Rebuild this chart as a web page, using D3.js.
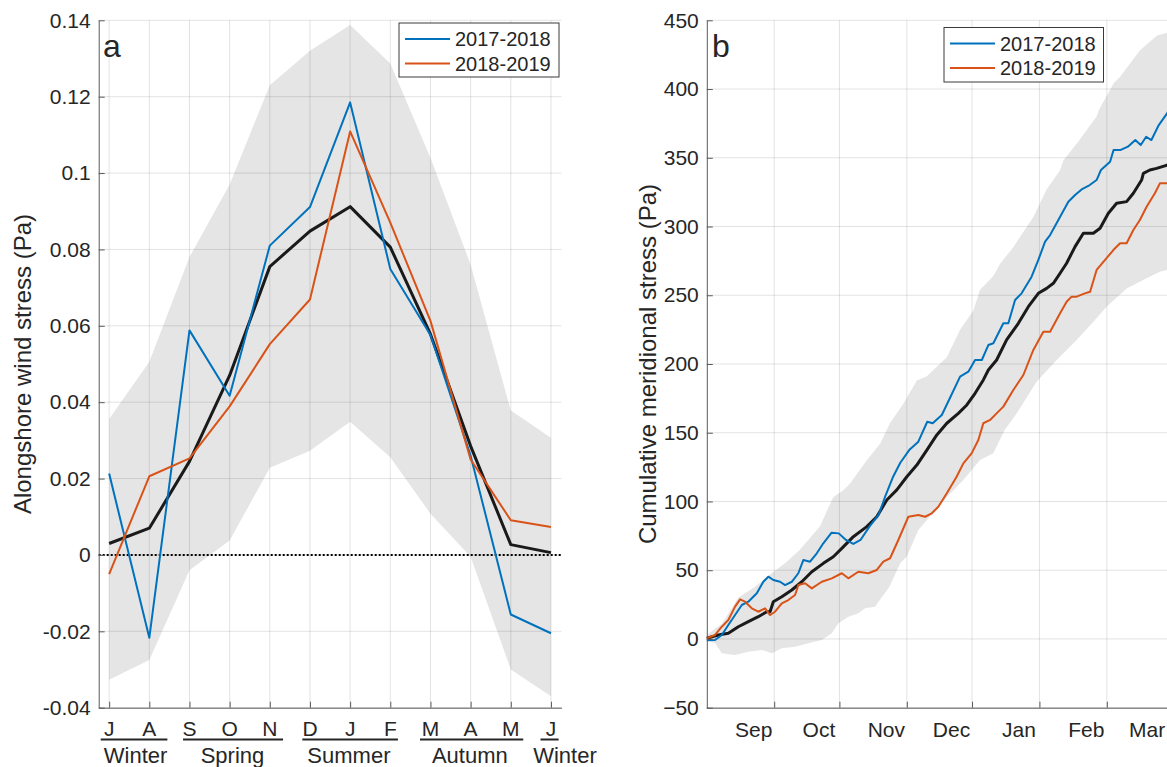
<!DOCTYPE html>
<html>
<head>
<meta charset="utf-8">
<script src="https://cdn.jsdelivr.net/npm/d3@7"></script>
<style>
  body { margin: 0; background: #fff; }
  svg { display: block; }
  text { font-family: "Liberation Sans", Arial, sans-serif; fill: #262626; }
</style>
</head>
<body>
<div id="chart"></div>
<script>
"use strict";

// ---- panel a : monthly alongshore wind stress (Pa), Jul..Jun
var monthLetters = ["J", "A", "S", "O", "N", "D", "J", "F", "M", "A", "M", "J"];
var a2017 = [0.0213, -0.0217, 0.0588, 0.0417, 0.081, 0.0911, 0.1185, 0.0749, 0.0576, 0.026, -0.0156, -0.0205];
var a2018 = [-0.005, 0.0206, 0.0253, 0.0389, 0.0552, 0.0669, 0.1109, 0.087, 0.0613, 0.025, 0.0091, 0.0073];
var aMean = [0.003, 0.007, 0.0245, 0.047, 0.0755, 0.0848, 0.0912, 0.0806, 0.0578, 0.0285, 0.0027, 0.0006];
var aUpper = [0.0356, 0.0506, 0.078, 0.097, 0.123, 0.132, 0.1388, 0.1287, 0.104, 0.076, 0.0378, 0.0307];
var aLower = [-0.0327, -0.0275, -0.004, 0.0038, 0.0228, 0.0273, 0.0349, 0.0256, 0.0108, -0.0005, -0.030, -0.037];
var aYTicks = [-0.04, -0.02, 0, 0.02, 0.04, 0.06, 0.08, 0.1, 0.12, 0.14];

var seasonNames = ["Winter", "Spring", "Summer", "Autumn", "Winter"];
var seasonFrom = [-0.21, 1.84, 4.81, 7.74, 10.74];
var seasonTo = [1.45, 4.33, 7.19, 10.31, 11.19];
var seasonAt = [0.66, 3.07, 5.97, 8.98, 11.35];

var legendNames = ["2017-2018", "2018-2019"];

// ---- panel b : cumulative meridional stress (Pa), [day since 1 Aug, value]
var bBlue = [[0,-1],[3.8,-0.8],[6.9,2.9],[9.9,10.2],[13,17.4],[16.1,24.7],[19.1,27.1],[23,33.2],[26,41.6],[28.3,45.3],[30.6,42.9],[33.7,41.6],[36,39.2],[39.1,41.6],[42.1,47.8],[44.4,57.4],[47.5,56.2],[50.6,62.3],[53.6,69.6],[57.4,77.3],[60.7,76.8],[64,72],[67.4,69.1],[70.7,72],[74.8,81.7],[79,90.2],[82.3,104.7],[85.7,118],[89,128.2],[93.1,137.4],[97.3,143.5],[101.4,158],[103.9,156.9],[108.1,162.9],[111.4,173.8],[116.5,190.8],[120.3,194.4],[123.4,202.9],[126.5,202.9],[129.5,213.8],[131.8,215.1],[136.4,229.6],[138.7,229.6],[141.8,246.6],[144.8,251.4],[149.4,263.5],[152.5,275.7],[155.6,289],[157.9,293.8],[161.7,304.7],[166.3,318],[169.4,322.9],[172.4,327],[175.5,329.5],[179.3,333.8],[181.3,341.1],[185.5,347.1],[187.1,355.7],[190.4,355.7],[193.7,358.1],[197.1,362.9],[199.6,359.3],[202.1,365.3],[204.5,362.9],[207.9,373.8],[211.7,382.3],[213,386]];
var bOrange = [[0,0.5],[3.8,2.9],[6.9,8.9],[9.9,13.8],[13,23.5],[15.3,28.8],[17.6,27.1],[20.7,22.3],[23.7,19.8],[26.8,22.3],[29.1,17.4],[31.4,19.8],[34.5,25.9],[37.5,28.3],[40.6,32],[42.1,39.2],[45.2,40.5],[48.3,36.8],[52.9,41.6],[57.5,44.1],[62.1,47.8],[65.1,44.1],[69.7,48.9],[74.3,47.8],[78.2,50.2],[81.2,56.2],[84.3,58.7],[88.1,72],[92.7,88.9],[97.3,90.2],[100.4,88.9],[103.5,91.4],[106.5,96.2],[110.4,106],[114.9,118],[118,127.7],[121.8,135],[124.9,144.7],[127.2,156.9],[130.3,159.3],[133.3,164.1],[136.4,169],[141,181.1],[145.6,192],[150.2,210.2],[154.8,223.5],[157.9,223.5],[162.5,236.9],[165.5,245.3],[167.8,249],[170.1,249],[173.9,251.4],[176.3,252.6],[179.3,268.4],[183.2,275.7],[187,282.9],[190.1,287.8],[193.1,287.8],[196.2,297.5],[199.2,304.7],[202.3,314.4],[206.1,324.2],[208.4,331.4],[211.7,331.4],[213,332]];
var bMean = [[0,0.5],[5.3,2.9],[9.9,4.1],[14.5,8.9],[19.1,12.6],[23.7,16.2],[27.6,19.8],[29.1,19.8],[30.6,27.1],[34.5,30.7],[39.1,35.6],[43.7,41.6],[48.3,48.9],[53.6,55],[58.2,59.8],[62.1,65.9],[67.4,74.4],[73.6,81.7],[78.2,88.9],[82.8,101.1],[87.4,108.4],[92,118],[96.6,126.5],[101.2,137.4],[105.8,148.4],[110.4,156.9],[115.7,164.1],[119.6,170.2],[123.4,178.7],[127.2,188.4],[129.5,195.6],[133.3,202.9],[137.9,217.5],[143.3,229.6],[147.9,241.7],[152.5,251.4],[156.3,255],[159.4,258.7],[162.5,266],[165.5,273.3],[169.4,285.4],[173.2,295.1],[177.8,295.1],[180.9,298.7],[184.7,309.6],[188.5,316.9],[193.1,318.1],[196.2,324.2],[200,333.8],[200.8,338.7],[203.8,341.1],[206.9,342.3],[211.7,344.7],[213,345]];
var bUpper = [[0,3],[7,11],[14.4,30],[22.2,38],[30,48],[36,55],[42.9,65],[52.1,82],[58.1,103],[62.7,108],[65.9,113],[73.6,130],[79.7,142],[84.3,157],[90.4,171],[96.6,188],[101.2,191],[110.4,205],[116.5,225],[122.6,239],[125.7,254],[131.8,264],[134.9,273],[141,285],[150.2,307],[156.3,327],[162.5,341],[164,348],[171,362],[179.3,380],[180.4,385],[187.1,404],[190.1,409],[199.2,428],[207.1,439],[211.7,441],[213,442]];
var bLower = [[0,-1],[3.8,-3.2],[6.9,-10.4],[13,-11.7],[19.1,-9.3],[25.3,-8],[29.9,-10.4],[34.5,-6.8],[40.6,-5.6],[46.7,-3.2],[52.9,-0.8],[57.5,4.1],[60.5,11.4],[65.1,16.2],[69.7,18.7],[72.8,22.3],[77.3,23.5],[84,38],[89,55],[92,60],[97.3,79.3],[103.9,91.4],[110.6,103.5],[118,115.6],[125.7,130.2],[131.8,135],[137,152],[142.5,164],[151.7,187],[160.9,203],[170.1,217.5],[177.8,230.8],[183.9,241.7],[193.1,255],[202.3,262.3],[208.4,267.1],[211.7,268.4],[213,269]];
var bYTicks = [-50, 0, 50, 100, 150, 200, 250, 300, 350, 400, 450];
var bStart = new Date(2017, 7, 1);
var bMonthTicks = [new Date(2017, 8, 1), new Date(2017, 9, 1), new Date(2017, 10, 1), new Date(2017, 11, 1),
                   new Date(2018, 0, 1), new Date(2018, 1, 1), new Date(2018, 2, 1)];

var BLUE = "#0072BD", ORANGE = "#D95319", BLACK = "#1a1a1a", BAND = "#e5e5e5";
var AXIS = "#5a5a5a", GRID = "#262626";

var svg = d3.select("#chart").append("svg")
  .attr("width", 1167)
  .attr("height", 767)
  .attr("style", "background:#fff;");

function styleAxis(g){
  g.select(".domain").attr("stroke", AXIS);
  g.selectAll(".tick line").attr("stroke", AXIS);
  g.selectAll(".tick text").attr("fill", "#262626").attr("font-size", "21px")
    .attr("font-family", "Liberation Sans, Arial, sans-serif");
}

function drawLegend(x, y, w, h){
  var lg = svg.append("g").attr("transform", "translate(" + x + "," + y + ")");
  lg.append("rect").attr("width", w).attr("height", h)
    .attr("fill", "#fff").attr("stroke", "#3a3a3a").attr("stroke-width", 1);
  [BLUE, ORANGE].forEach(function(c, i){
    var ry = 16 + i * 24.5;
    lg.append("line").attr("x1", 6).attr("x2", 51).attr("y1", ry).attr("y2", ry)
      .attr("stroke", c).attr("stroke-width", 2);
    lg.append("text").attr("x", 56).attr("y", ry + 7).attr("font-size", "20px").text(legendNames[i]);
  });
}

// ================= panel a =================
var xa = d3.scaleLinear().domain([-0.26, 11.26]).range([98.7, 561.4]);
var ya = d3.scaleLinear().domain([-0.04, 0.14]).range([707.7, 20.3]);
var months = d3.range(monthLetters.length);

var pa = svg.append("g");

pa.append("path")
  .datum(aUpper)
  .attr("fill", BAND)
  .attr("d", d3.area()
    .x(function(d, i){ return xa(i); })
    .y0(function(d, i){ return ya(aLower[i]); })
    .y1(function(d){ return ya(d); }));

// grid
pa.append("g").selectAll("line").data(months).enter().append("line")
  .attr("x1", function(d){ return xa(d); }).attr("x2", function(d){ return xa(d); })
  .attr("y1", ya(0.14)).attr("y2", ya(-0.04))
  .attr("stroke", GRID).attr("stroke-opacity", 0.13);
pa.append("g").selectAll("line").data(aYTicks).enter().append("line")
  .attr("x1", xa.range()[0]).attr("x2", xa.range()[1])
  .attr("y1", function(d){ return ya(d); }).attr("y2", function(d){ return ya(d); })
  .attr("stroke", GRID).attr("stroke-opacity", 0.13);

// zero line
pa.append("line")
  .attr("x1", xa.range()[0]).attr("x2", xa.range()[1])
  .attr("y1", ya(0)).attr("y2", ya(0))
  .attr("stroke", "#000").attr("stroke-width", 2).attr("stroke-dasharray", "2,2");

var lineA = d3.line().x(function(d, i){ return xa(i); }).y(function(d){ return ya(d); });
[[aMean, BLACK, 3], [a2017, BLUE, 2], [a2018, ORANGE, 2]].forEach(function(s){
  pa.append("path").datum(s[0]).attr("fill", "none")
    .attr("stroke", s[1]).attr("stroke-width", s[2]).attr("stroke-linejoin", "round")
    .attr("d", lineA);
});

pa.append("g").attr("transform", "translate(" + xa.range()[0] + ",0)")
  .call(d3.axisLeft(ya).tickValues(aYTicks).tickSize(-6).tickSizeOuter(0).tickPadding(8)
    .tickFormat(function(d){ return String(+d.toFixed(2)); }))
  .call(styleAxis);
pa.append("g").attr("transform", "translate(0," + ya.range()[0] + ")")
  .call(d3.axisBottom(xa).tickValues(months).tickSize(-6).tickSizeOuter(0).tickFormat(""))
  .call(styleAxis);

// month letters and season groups
pa.append("g").selectAll("text").data(monthLetters).enter().append("text")
  .attr("x", function(d, i){ return xa(i); }).attr("y", 736)
  .attr("text-anchor", "middle").attr("font-size", "21px")
  .text(function(d){ return d; });
pa.append("g").selectAll("line").data(seasonNames).enter().append("line")
  .attr("x1", function(d, i){ return xa(seasonFrom[i]); })
  .attr("x2", function(d, i){ return xa(seasonTo[i]); })
  .attr("y1", 739.5).attr("y2", 739.5)
  .attr("stroke", "#262626").attr("stroke-width", 2);
pa.append("g").selectAll("text").data(seasonNames).enter().append("text")
  .attr("x", function(d, i){ return xa(seasonAt[i]); }).attr("y", 763)
  .attr("text-anchor", "middle").attr("font-size", "22px")
  .attr("font-family", "Lato, sans-serif")
  .text(function(d){ return d; });

pa.append("text").attr("transform", "translate(30.5,364) rotate(-90)")
  .attr("text-anchor", "middle").attr("font-size", "24px")
  .text("Alongshore wind stress (Pa)");
pa.append("text").attr("x", 103).attr("y", 57).attr("font-size", "32px")
  .attr("font-family", "Lato, sans-serif").text("a");

drawLegend(399, 23, 160, 54);

// ================= panel b =================
function dayDate(d){ return new Date(bStart.getTime() + d * 864e5); }
var xb = d3.scaleTime().domain([bStart, new Date(2018, 2, 1)]).range([706.8, 1167.7]);
var yb = d3.scaleLinear().domain([-50, 450]).range([707.7, 20.3]);
var bRight = 1170;

var pb = svg.append("g");

pb.append("path")
  .datum(bUpper.concat(bLower.slice().reverse()))
  .attr("fill", BAND)
  .attr("d", d3.line()
    .x(function(d){ return xb(dayDate(d[0])); })
    .y(function(d){ return yb(d[1]); }));

pb.append("g").selectAll("line").data(bMonthTicks).enter().append("line")
  .attr("x1", function(d){ return xb(d); }).attr("x2", function(d){ return xb(d); })
  .attr("y1", yb(450)).attr("y2", yb(-50))
  .attr("stroke", GRID).attr("stroke-opacity", 0.13);
pb.append("g").selectAll("line").data(bYTicks).enter().append("line")
  .attr("x1", xb.range()[0]).attr("x2", bRight)
  .attr("y1", function(d){ return yb(d); }).attr("y2", function(d){ return yb(d); })
  .attr("stroke", GRID).attr("stroke-opacity", 0.13);

var lineB = d3.line().x(function(d){ return xb(dayDate(d[0])); }).y(function(d){ return yb(d[1]); });
[[bMean, BLACK, 3], [bBlue, BLUE, 2], [bOrange, ORANGE, 2]].forEach(function(s){
  pb.append("path").datum(s[0]).attr("fill", "none")
    .attr("stroke", s[1]).attr("stroke-width", s[2]).attr("stroke-linejoin", "round")
    .attr("d", lineB);
});

pb.append("g").attr("transform", "translate(" + xb.range()[0] + ",0)")
  .call(d3.axisLeft(yb).tickValues(bYTicks).tickSize(-6).tickSizeOuter(0).tickPadding(8))
  .call(styleAxis);
var bx = pb.append("g").attr("transform", "translate(0," + yb.range()[0] + ")")
  .call(d3.axisBottom(xb).tickValues(bMonthTicks).tickSize(-6).tickSizeOuter(0).tickPadding(14)
    .tickFormat(d3.timeFormat("%b")))
  .call(styleAxis);
bx.select(".domain").attr("d", "M" + xb.range()[0] + ",0.5H" + bRight);
bx.selectAll(".tick text").attr("x", -21);

pb.append("text").attr("transform", "translate(656,364) rotate(-90)")
  .attr("text-anchor", "middle").attr("font-size", "24px")
  .text("Cumulative meridional stress (Pa)");
pb.append("text").attr("x", 712).attr("y", 57).attr("font-size", "32px")
  .attr("font-family", "Lato, sans-serif").text("b");

drawLegend(944, 27.5, 159.5, 54.5);
</script>
</body>
</html>
